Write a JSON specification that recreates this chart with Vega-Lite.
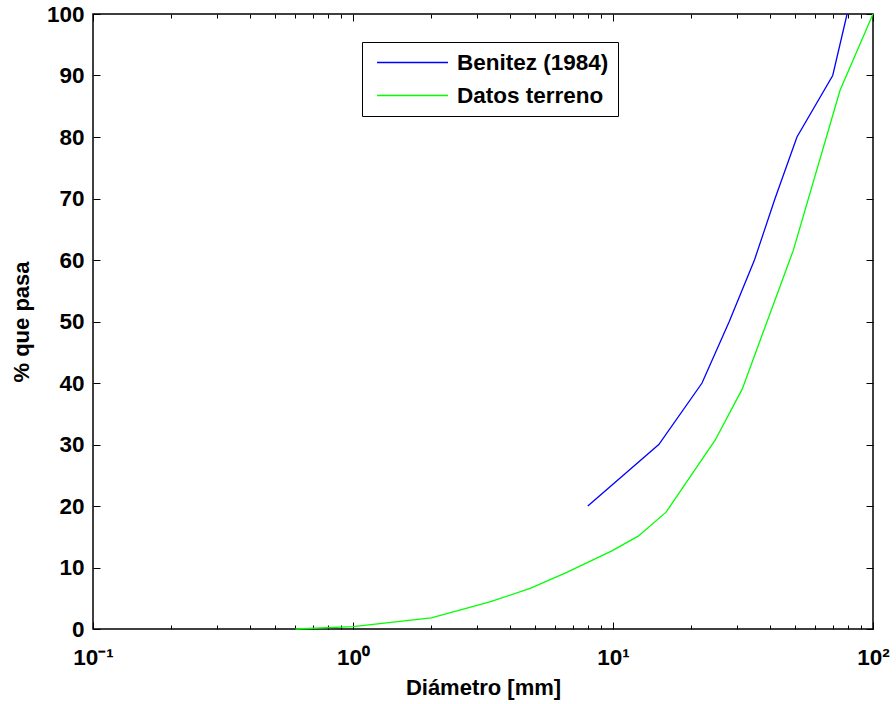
{
  "$schema": "https://vega.github.io/schema/vega-lite/v6.json",
  "width": 780,
  "height": 615,
  "autosize": {"type": "none"},
  "padding": {"left": 93, "top": 14, "right": 23, "bottom": 75},
  "background": "white",
  "config": {
    "view": {"stroke": "#000000", "strokeWidth": 1.5},
    "axis": {"grid": false, "domain": false, "tickColor": "#000000", "tickWidth": 1, "labelColor": "#000000", "titleColor": "#000000", "labelFont": "Liberation Sans", "titleFont": "Liberation Sans", "labelFontWeight": "bold", "titleFontWeight": "bold", "labelFontSize": 22.5, "titleFontSize": 22, "labelOverlap": false, "labelFlush": false}
  },
  "data": {
    "values": [
      {"serie": "Benitez (1984)", "d": 8, "p": 20},
      {"serie": "Benitez (1984)", "d": 15, "p": 30},
      {"serie": "Benitez (1984)", "d": 22, "p": 40},
      {"serie": "Benitez (1984)", "d": 28, "p": 50},
      {"serie": "Benitez (1984)", "d": 35, "p": 60},
      {"serie": "Benitez (1984)", "d": 42, "p": 70},
      {"serie": "Benitez (1984)", "d": 51, "p": 80},
      {"serie": "Benitez (1984)", "d": 70, "p": 90},
      {"serie": "Benitez (1984)", "d": 79.5, "p": 100},
      {"serie": "Datos terreno", "d": 0.6, "p": 0},
      {"serie": "Datos terreno", "d": 1.0, "p": 0.4},
      {"serie": "Datos terreno", "d": 2.0, "p": 1.8},
      {"serie": "Datos terreno", "d": 3.36, "p": 4.4},
      {"serie": "Datos terreno", "d": 4.8, "p": 6.6},
      {"serie": "Datos terreno", "d": 6.64, "p": 9.2},
      {"serie": "Datos terreno", "d": 9.9, "p": 12.7},
      {"serie": "Datos terreno", "d": 12.5, "p": 15.1},
      {"serie": "Datos terreno", "d": 16, "p": 19},
      {"serie": "Datos terreno", "d": 24.7, "p": 30.7},
      {"serie": "Datos terreno", "d": 31.4, "p": 39},
      {"serie": "Datos terreno", "d": 49.4, "p": 61.6},
      {"serie": "Datos terreno", "d": 74.7, "p": 87.6},
      {"serie": "Datos terreno", "d": 100, "p": 100}
    ]
  },
  "layer": [
    {
      "mark": {"type": "line", "strokeWidth": 1.3},
      "encoding": {
        "x": {"field": "d", "type": "quantitative", "scale": {"type": "log", "domain": [0.1, 100], "nice": false},
          "axis": {"orient": "bottom", "values": [0.1, 1, 10, 100], "tickSize": -7, "labelPadding": 24, "title": "Diámetro [mm]", "titlePadding": 9,
            "labelExpr": "datum.value < 0.5 ? '10⁻¹' : datum.value < 5 ? '10⁰' : datum.value < 50 ? '10¹' : '10²'"}},
        "y": {"field": "p", "type": "quantitative", "scale": {"domain": [0, 100], "nice": false},
          "axis": {"orient": "left", "values": [0, 10, 20, 30, 40, 50, 60, 70, 80, 90, 100], "tickSize": -7, "labelPadding": 16, "title": "% que pasa", "titlePadding": 13}},
        "color": {"field": "serie", "type": "nominal",
          "scale": {"domain": ["Benitez (1984)", "Datos terreno"], "range": ["#0000ff", "#00ff00"]},
          "legend": {"orient": "none", "legendX": 269, "legendY": 28, "title": null, "strokeColor": "#000000", "fillColor": "#ffffff", "padding": 9, "symbolOffset": 5, "symbolType": "stroke", "symbolSize": 5041, "symbolStrokeWidth": 1.3, "labelFont": "Liberation Sans", "labelFontWeight": "bold", "labelFontSize": 22.5, "labelColor": "#000000", "labelOffset": 8, "clipHeight": 23, "rowPadding": 10}}
      }
    },
    {
      "mark": {"type": "line", "opacity": 0},
      "encoding": {
        "x": {"field": "d", "type": "quantitative", "scale": {"type": "log", "domain": [0.1, 100], "nice": false},
          "axis": {"orient": "bottom", "values": [0.2, 0.3, 0.4, 0.5, 0.6, 0.7, 0.8, 0.9, 2, 3, 4, 5, 6, 7, 8, 9, 20, 30, 40, 50, 60, 70, 80, 90], "tickSize": -4, "labels": false, "title": null}},
        "y": {"field": "p", "type": "quantitative", "scale": {"domain": [0, 100], "nice": false},
          "axis": {"orient": "right", "values": [0, 10, 20, 30, 40, 50, 60, 70, 80, 90, 100], "tickSize": -7, "labels": false, "title": null}},
        "detail": {"field": "serie"}
      }
    },
    {
      "mark": {"type": "line", "opacity": 0},
      "encoding": {
        "x": {"field": "d", "type": "quantitative", "scale": {"type": "log", "domain": [0.1, 100], "nice": false},
          "axis": {"orient": "top", "values": [0.1, 1, 10, 100], "tickSize": -7, "labels": false, "title": null}},
        "y": {"field": "p", "type": "quantitative", "scale": {"domain": [0, 100], "nice": false}, "axis": null},
        "detail": {"field": "serie"}
      }
    },
    {
      "mark": {"type": "line", "opacity": 0},
      "encoding": {
        "x": {"field": "d", "type": "quantitative", "scale": {"type": "log", "domain": [0.1, 100], "nice": false},
          "axis": {"orient": "top", "values": [0.2, 0.3, 0.4, 0.5, 0.6, 0.7, 0.8, 0.9, 2, 3, 4, 5, 6, 7, 8, 9, 20, 30, 40, 50, 60, 70, 80, 90], "tickSize": -4, "labels": false, "title": null}},
        "y": {"field": "p", "type": "quantitative", "scale": {"domain": [0, 100], "nice": false}, "axis": null},
        "detail": {"field": "serie"}
      }
    }
  ],
  "resolve": {"scale": {"x": "independent", "y": "independent"}, "axis": {"x": "independent", "y": "independent"}}
}
